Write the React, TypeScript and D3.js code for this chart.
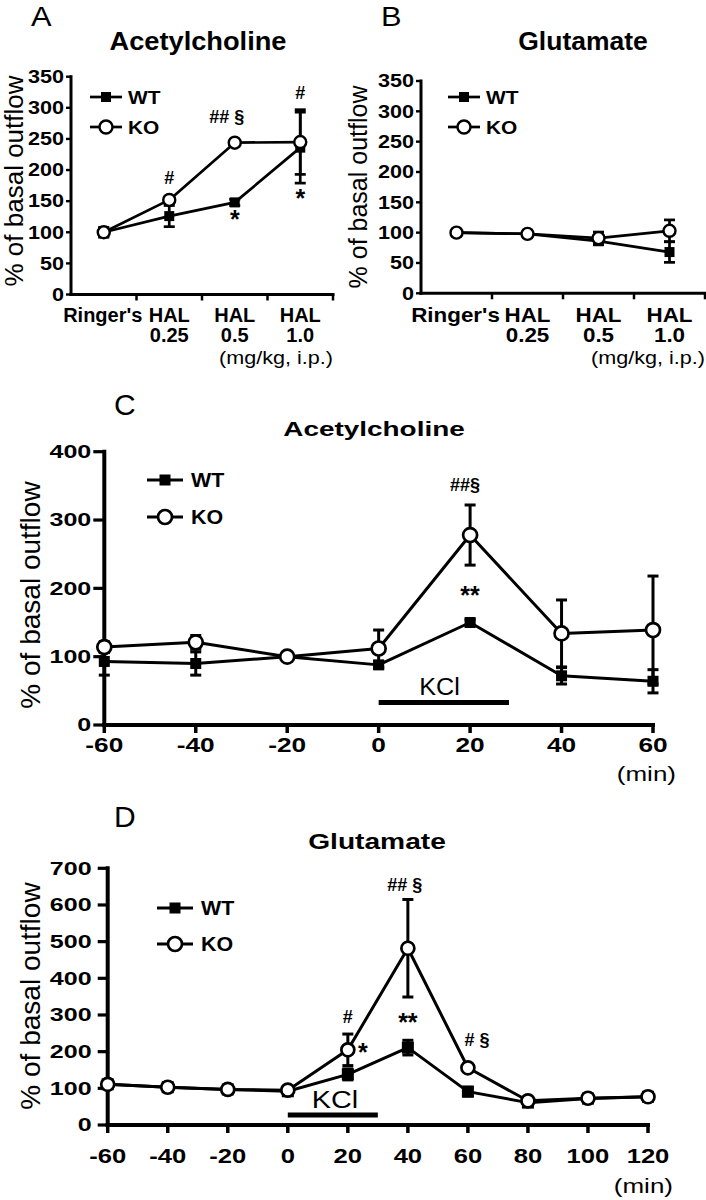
import React from 'react';
import * as d3 from 'd3';

const FONT = "'Liberation Sans', Arial, Helvetica, sans-serif";

// ---------- Panel A / B data (dose-response) ----------
const doseLine1 = ["Ringer's", 'HAL', 'HAL', 'HAL'];
const doseLine2 = ['', '0.25', '0.5', '1.0'];
const doseIdx = [0, 1, 2, 3];
const abYTicks = [0, 50, 100, 150, 200, 250, 300, 350];

const achDoseWT = [100, 126, 148, 236];
const achDoseWTErr = [8, 17, 5, 57];
const achDoseKO = [100, 152, 244, 245];
const achDoseKOErr = [6, 5, 3, 52];

const gluDoseWT = [100, 98, 86, 68];
const gluDoseWTErr = [3, 5, 6, 17];
const gluDoseKO = [100, 98, 91, 103];
const gluDoseKOErr = [3, 4, 10, 18];

// ---------- Panel C data (ACh time course) ----------
const cTimes = [-60, -40, -20, 0, 20, 40, 60];
const cYTicks = [0, 100, 200, 300, 400];
const cWT = [93, 90, 100, 88, 150, 72, 64];
const cWTErr = [20, 17, 3, 5, 4, 12, 17];
const cKO = [114, 121, 100, 112, 278, 134, 139];
const cKOErr = [8, 10, 3, 27, 44, 49, 79];

// ---------- Panel D data (Glu time course) ----------
const dTimes = [-60, -40, -20, 0, 20, 40, 60, 80, 100, 120];
const dYTicks = [0, 100, 200, 300, 400, 500, 600, 700];
const dWT = [111, 103, 97, 92, 138, 211, 91, 61, 72, 77];
const dWTErr = [6, 5, 4, 5, 15, 20, 12, 5, 5, 5];
const dKO = [111, 103, 97, 95, 205, 482, 156, 66, 73, 77];
const dKOErr = [5, 5, 4, 4, 43, 133, 10, 5, 5, 5];

// significance marks: x (index or time), level (data units), text
const aMarks = [
  { x: 1, v: 187, t: '#' },
  { x: 2, v: 285, t: '## §', dx: -8 },
  { x: 2, v: 122, t: '*' },
  { x: 3, v: 324, t: '#' },
  { x: 3, v: 155, t: '*' },
];
const cMarks = [
  { x: 20, v: 351, t: '##§', dx: -5 },
  { x: 20, v: 190, t: '**' },
];
const dMarks = [
  { x: 20, v: 295, t: '#' },
  { x: 25, v: 200, t: '*' },
  { x: 40, v: 654, t: '## §', dx: -3 },
  { x: 40, v: 282, t: '**' },
  { x: 63, v: 232, t: '# §' },
];
const cKCl = { from: 0, to: 28.5, bar: 33, label: 44, labelAt: 13.3 };
const dKCl = { from: 0, to: 30, bar: 27, label: 46, labelAt: 15.7 };

function Txt(p: any) {
  const { x, y, sx = 1, size, weight = 'normal', anchor = 'middle', rotate = 0, baseline, children } = p;
  return (
    <text
      transform={`translate(${x},${y})${rotate ? ` rotate(${rotate})` : ''} scale(${sx},1)`}
      fontSize={size}
      fontWeight={weight}
      textAnchor={anchor}
      dominantBaseline={baseline}
      fontFamily={FONT}
      fill="#000"
    >
      {children}
    </text>
  );
}

function Series(p: any) {
  const { xs, vals, errs, xf, y, kind, r, capW, lw } = p;
  const pts = xs.map((x: any, i: number) => [xf(x), y(vals[i])] as [number, number]);
  const path = d3.line()(pts) || '';
  return (
    <g>
      <path d={path} fill="none" stroke="#000" strokeWidth={lw} strokeLinejoin="round" />
      {pts.map(([px]: any, i: number) => {
        const e = errs[i];
        const top = y(vals[i] + e);
        const bot = y(vals[i] - e);
        return (
          <g key={'e' + i} stroke="#000" strokeWidth={lw}>
            <line x1={px} x2={px} y1={top} y2={bot} />
            <line x1={px - capW / 2} x2={px + capW / 2} y1={top} y2={top} />
            <line x1={px - capW / 2} x2={px + capW / 2} y1={bot} y2={bot} />
          </g>
        );
      })}
      {pts.map(([px, py]: any, i: number) =>
        kind === 'square' ? (
          <rect key={'m' + i} x={px - r} y={py - r} width={2 * r} height={2 * r} fill="#000" />
        ) : (
          <circle key={'m' + i} cx={px} cy={py} r={r} fill="#fff" stroke="#000" strokeWidth={lw * 0.9} />
        )
      )}
    </g>
  );
}

function Legend(p: any) {
  const { x, y1, y2, len, sq, cr, lw, size, sx, gap } = p;
  const mx = x + len / 2;
  return (
    <g>
      <line x1={x} x2={x + len} y1={y1} y2={y1} stroke="#000" strokeWidth={lw} />
      <rect x={mx - sq} y={y1 - sq} width={2 * sq} height={2 * sq} fill="#000" />
      <Txt x={x + len + gap} y={y1} size={size} weight="bold" anchor="start" sx={sx} baseline="central">WT</Txt>
      <line x1={x} x2={x + len} y1={y2} y2={y2} stroke="#000" strokeWidth={lw} />
      <circle cx={mx} cy={y2} r={cr} fill="#fff" stroke="#000" strokeWidth={lw * 0.9} />
      <Txt x={x + len + gap} y={y2} size={size} weight="bold" anchor="start" sx={sx} baseline="central">KO</Txt>
    </g>
  );
}

function YAxis(p: any) {
  const { x0, y, ticks, tl, size, sx, aw, gap } = p;
  const [r0, r1] = y.range();
  return (
    <g>
      <line x1={x0} x2={x0} y1={r0} y2={r1} stroke="#000" strokeWidth={aw} strokeLinecap="square" />
      {ticks.map((t: number) => (
        <g key={t}>
          <line x1={x0 - tl} x2={x0} y1={y(t)} y2={y(t)} stroke="#000" strokeWidth={aw * 0.8} />
          <Txt x={x0 - tl - gap} y={y(t)} size={size} weight="bold" anchor="end" sx={sx} baseline="central">{t}</Txt>
        </g>
      ))}
    </g>
  );
}

function DosePanel(p: any) {
  const { L, title, letter, wt, wtE, ko, koE, marks } = p;
  const x = d3.scaleBand<number>().domain(doseIdx).range([L.x0, L.x1]).paddingInner(0).paddingOuter(0);
  const y = d3.scaleLinear().domain([0, 350]).range([L.yBot, L.yTop]);
  const xc = (i: number) => (x(i) as number) + x.bandwidth() / 2;
  const bounds = doseIdx.map((i) => (x(i) as number) + x.bandwidth());
  return (
    <g>
      <Txt x={L.letterX} y={26} size={28} anchor="start" sx={1.1}>{letter}</Txt>
      <Txt x={L.titleX} y={50} size={25} weight="bold" sx={L.titleSx}>{title}</Txt>
      <Txt x={L.yTitleX} y={L.yTitleY} size={L.yTitleSize} rotate={-90} baseline="central">% of basal outflow</Txt>
      <YAxis x0={L.x0} y={y} ticks={abYTicks} tl={5} size={18} sx={L.tickSx} aw={3} gap={2} />
      <line x1={L.x0} x2={L.x1} y1={L.yBot} y2={L.yBot} stroke="#000" strokeWidth={3} strokeLinecap="square" />
      {bounds.map((b, i) => (
        <line key={i} x1={b} x2={b} y1={L.yBot} y2={L.yBot + 6} stroke="#000" strokeWidth={2.5} />
      ))}
      {doseIdx.map((i) => (
        <g key={i}>
          <Txt x={xc(i) + (i === 0 ? -1 : 0)} y={322} size={20} weight="bold" sx={L.labSx}>{doseLine1[i]}</Txt>
          <Txt x={xc(i)} y={342} size={20} weight="bold" sx={L.labSx}>{doseLine2[i]}</Txt>
        </g>
      ))}
      <Txt x={L.x1} y={364} size={18} anchor="end" sx={L.unitSx}>(mg/kg, i.p.)</Txt>
      <Legend x={L.legX} y1={97} y2={127} len={32} sq={5} cr={6.5} lw={2.7} size={19} sx={1.1} gap={6} />
      <Series xs={doseIdx} vals={wt} errs={wtE} xf={xc} y={y} kind="square" r={5} capW={11} lw={2.7} />
      <Series xs={doseIdx} vals={ko} errs={koE} xf={xc} y={y} kind="circle" r={6} capW={11} lw={2.7} />
      {marks.map((m: any, i: number) => (
        <Txt key={i} x={xc(m.x) + (m.dx || 0)} y={y(m.v)} size={m.t === '*' ? 25 : 18} weight="bold" baseline="central">
          {m.t}
        </Txt>
      ))}
    </g>
  );
}

function TimePanel(p: any) {
  const { L, title, letter, times, ticksY, ymax, wt, wtE, ko, koE, marks, kcl } = p;
  const x = d3.scaleLinear().domain([times[0], times[times.length - 1]]).range([L.x0, L.x1]);
  const y = d3.scaleLinear().domain([0, ymax]).range([L.yBot, L.yTop]);
  return (
    <g>
      <Txt x={L.letterX} y={L.letterY} size={30} anchor="start">{letter}</Txt>
      <Txt x={L.titleX} y={L.titleY} size={L.titleSize} weight="bold" sx={L.titleSx}>{title}</Txt>
      <Txt x={30} y={L.yTitleY} size={28} rotate={-90} baseline="central">% of basal outflow</Txt>
      <YAxis x0={L.x0} y={y} ticks={ticksY} tl={L.tl} size={19} sx={L.tickSx} aw={4} gap={L.tgap} />
      <line x1={L.x0} x2={L.x1} y1={L.yBot} y2={L.yBot} stroke="#000" strokeWidth={4} strokeLinecap="square" />
      {times.map((t: number) => (
        <g key={t}>
          <line x1={x(t)} x2={x(t)} y1={L.yBot} y2={L.yBot + 8} stroke="#000" strokeWidth={3.5} />
          <Txt x={x(t)} y={L.xLabY} size={21} weight="bold" sx={L.xLabSx}>{t}</Txt>
        </g>
      ))}
      <Txt x={L.minX} y={L.minY} size={20} anchor="end" sx={1.3}>(min)</Txt>
      <line x1={x(kcl.from)} x2={x(kcl.to)} y1={y(kcl.bar)} y2={y(kcl.bar)} stroke="#000" strokeWidth={5} />
      <Txt x={x(kcl.labelAt)} y={y(kcl.label)} size={24} sx={L.kclSx}>KCl</Txt>
      <Legend x={L.legX} y1={L.legY1} y2={L.legY2} len={36} sq={5.5} cr={7} lw={3} size={20} sx={1.07} gap={8} />
      <Series xs={times} vals={wt} errs={wtE} xf={x} y={y} kind="square" r={L.sq} capW={11} lw={3} />
      <Series xs={times} vals={ko} errs={koE} xf={x} y={y} kind="circle" r={L.cr} capW={11} lw={3} />
      {marks.map((m: any, i: number) => {
        const star = m.t.indexOf('*') === 0;
        return (
          <Txt key={i} x={x(m.x) + (m.dx || 0)} y={y(m.v)} size={star ? 25 : 18} weight="bold" baseline="central">
            {m.t}
          </Txt>
        );
      })}
    </g>
  );
}

const LA = { x0: 71, x1: 333, yTop: 76.7, yBot: 294.5, letterX: 31, titleX: 198, titleSx: 1.09, yTitleX: 14, yTitleY: 181, yTitleSize: 26, tickSx: 1.2, labSx: 1.0, unitSx: 1.2, legX: 90 };
const LB = { x0: 421, x1: 705, yTop: 81, yBot: 293.3, letterX: 381, titleX: 583, titleSx: 1.06, yTitleX: 358, yTitleY: 187, yTitleSize: 25, tickSx: 1.2, labSx: 1.12, unitSx: 1.2, legX: 448 };
const LC = { x0: 104.3, x1: 653, yTop: 451.7, yBot: 725, letterX: 114, letterY: 415, titleX: 374, titleY: 436, titleSize: 21, titleSx: 1.33, yTitleY: 595, tickSx: 1.32, tl: 11, tgap: 2, xLabY: 752, xLabSx: 1.25, minX: 676, minY: 781, kclSx: 1.05, legX: 147, legY1: 480, legY2: 517, sq: 5.5, cr: 7 };
const LD = { x0: 107.7, x1: 648, yTop: 868.3, yBot: 1125, letterX: 114, letterY: 827, titleX: 377, titleY: 849, titleSize: 22, titleSx: 1.28, yTitleY: 996, tickSx: 1.32, tl: 10, tgap: 6, xLabY: 1163, xLabSx: 1.22, minX: 673, minY: 1193, kclSx: 1.2, legX: 157, legY1: 908, legY2: 944, sq: 6, cr: 6.5 };

export default function App() {
  return (
    <svg width={706} height={1200} viewBox="0 0 706 1200" style={{ position: 'absolute', left: 0, top: 0, background: '#fff' }}>
      <rect width={706} height={1200} fill="#fff" />
      <DosePanel L={LA} title="Acetylcholine" letter="A" wt={achDoseWT} wtE={achDoseWTErr} ko={achDoseKO} koE={achDoseKOErr} marks={aMarks} />
      <DosePanel L={LB} title="Glutamate" letter="B" wt={gluDoseWT} wtE={gluDoseWTErr} ko={gluDoseKO} koE={gluDoseKOErr} marks={[]} />
      <TimePanel L={LC} title="Acetylcholine" letter="C" times={cTimes} ticksY={cYTicks} ymax={400} wt={cWT} wtE={cWTErr} ko={cKO} koE={cKOErr} marks={cMarks} kcl={cKCl} />
      <TimePanel L={LD} title="Glutamate" letter="D" times={dTimes} ticksY={dYTicks} ymax={700} wt={dWT} wtE={dWTErr} ko={dKO} koE={dKOErr} marks={dMarks} kcl={dKCl} />
    </svg>
  );
}
